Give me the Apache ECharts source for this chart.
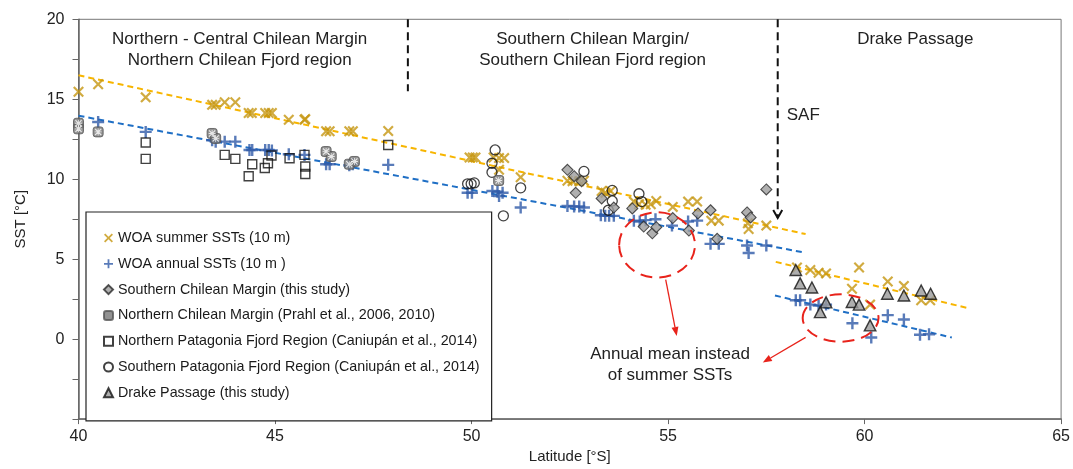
<!DOCTYPE html>
<html><head><meta charset="utf-8">
<script src="https://cdn.jsdelivr.net/npm/echarts@6/dist/echarts.min.js"></script>
<style>html,body{margin:0;padding:0;background:#fff}#c{width:1073px;height:469px}</style>
</head><body><div id="c"></div>
<script>
// ---------- data ----------
const xTickLabels = [40, 45, 50, 55, 60, 65];
const yTickLabels = [0, 5, 10, 15, 20];

const woaSummer = [
  [40.0,15.47],[40.5,15.94],[41.71,15.12],[43.40,14.65],[43.49,14.65],[43.72,14.81],[43.99,14.81],
  [44.33,14.14],[44.41,14.14],[44.75,14.14],[44.84,14.14],[44.92,14.14],[45.35,13.72],[45.75,13.72],
  [45.77,13.76],[46.30,13.0],[46.39,13.0],[46.89,13.0],[46.98,13.0],[47.88,13.02],
  [49.95,11.36],[50.03,11.36],[50.10,11.36],[50.56,11.36],[50.70,11.32],[50.83,11.32],[50.70,10.59],
  [51.25,10.12],[52.44,9.90],[52.57,9.88],[52.74,9.88],[52.86,9.90],[53.31,9.26],[53.41,9.15],
  [53.54,9.26],[54.13,8.60],[54.26,8.43],[54.43,8.40],[54.56,8.43],[54.70,8.64],[55.12,8.27],
  [55.51,8.60],[55.74,8.60],[56.10,7.41],[56.29,7.41],[57.03,7.24],[57.05,6.89],[57.50,7.10],
  [58.28,4.48],[58.62,4.32],[58.83,4.15],[59.02,4.11],[59.86,4.48],[59.68,3.15],[60.14,2.16],
  [60.59,3.60],[61.00,3.33],[61.44,2.43],[61.67,2.43]
];
const woaAnnual = [
  [40.5,13.58],[41.71,12.96],[43.40,12.44],[43.49,12.35],[43.72,12.35],[43.99,12.35],[44.35,11.83],
  [44.42,11.83],[44.75,11.83],[44.84,11.83],[44.92,11.80],[45.35,11.56],[45.75,11.52],[46.30,10.94],
  [46.39,10.94],[46.89,10.88],[46.98,10.94],[47.88,10.90],
  [49.90,9.15],[50.01,9.15],[50.53,9.26],[50.66,9.22],[50.79,9.15],[50.70,8.95],[51.25,8.23],
  [52.44,8.33],[52.61,8.29],[52.74,8.29],[52.86,8.23],[53.29,7.75],[53.40,7.71],[53.50,7.71],
  [53.62,7.71],[54.13,7.41],[54.28,7.36],[54.43,7.44],[54.68,7.50],[55.10,7.10],[55.51,7.36],
  [55.74,7.41],[56.08,5.96],[56.29,5.96],[57.01,5.86],[57.05,5.39],[57.50,5.86],
  [58.25,2.43],[58.36,2.43],[58.62,2.16],[58.83,2.10],[59.02,2.16],[59.69,0.99],[60.17,0.10],
  [60.59,1.50],[61.00,1.23],[61.41,0.27],[61.64,0.31]
];
const southernChileanMargin = [
  [52.44,10.59],[52.61,10.19],[52.80,9.88],[52.65,9.15],[53.31,8.80],[53.62,8.23],[54.09,8.17],
  [54.38,7.04],[54.60,6.62],[54.70,7.0],[55.12,7.57],[55.53,6.79],[55.76,7.86],[56.08,8.06],
  [56.25,6.27],[57.01,7.92],[57.10,7.61],[57.50,9.36]
];
const northernChileanMargin = [
  [40.0,13.5],[40.0,13.15],[40.5,12.96],[43.40,12.86],[43.49,12.55],[46.30,11.73],[46.43,11.42],
  [46.89,10.94],[47.02,11.11],[50.69,9.92]
];
const northernPatagonia = [
  [41.71,12.30],[41.71,11.27],[43.72,11.52],[43.99,11.27],[44.33,10.19],[44.42,10.94],[44.74,10.70],
  [44.82,11.0],[44.91,11.48],[45.37,11.31],[45.75,11.52],[45.77,10.80],[45.77,10.33],[47.88,12.14]
];
const southernPatagonia = [
  [49.90,9.71],[49.99,9.71],[50.07,9.77],[50.60,11.83],[50.52,11.0],[50.52,10.43],[51.25,9.46],
  [50.81,7.71],[52.86,10.49],[53.58,9.30],[53.58,8.64],[53.48,8.06],[54.26,9.09],[54.33,8.60]
];
const drakePassage = [
  [58.25,4.32],[58.36,3.49],[58.66,3.23],[59.02,2.30],[58.87,1.69],[59.68,2.32],[59.86,2.16],
  [60.14,0.86],[60.58,2.84],[61.00,2.73],[61.44,3.04],[61.68,2.84]
];
const summerTrendChile = [[40,16.5],[58.5,6.57]];
const annualTrendChile = [[40,13.97],[58.5,5.4]];
const summerTrendDrake = [[57.74,4.83],[62.68,1.91]];
const annualTrendDrake = [[57.72,2.73],[62.22,0.10]];
const dividerNorth = [[48.38,20],[48.38,15.5]];
const dividerSAF = [[57.79,20],[57.79,7.58]];

const legendNames = [
  'WOA summer SSTs (10 m)',
  'WOA annual SSTs (10 m )',
  'Southern Chilean Margin (this study)',
  'Northern Chilean Margin (Prahl et al., 2006, 2010)',
  'Northern Patagonia Fjord Region (Caniupán et al., 2014)',
  'Southern Patagonia Fjord Region (Caniupán et al., 2014)',
  'Drake Passage (this study)'
];
const regionTexts = [
  {text:'Northern - Central Chilean Margin\nNorthern Chilean Fjord region', at:[44.10,18.07]},
  {text:'Southern Chilean Margin/\nSouthern Chilean Fjord region', at:[53.08,18.07]},
  {text:'Drake Passage', at:[61.29,18.72]}
];
const annotationText = {text:'Annual mean instead\nof summer SSTs', at:[55.05,-1.58]};
const safLabel = {text:'SAF', at:[58.02,13.97]};
const ellipses = [
  {c:[54.72,5.89], rx:0.965, ry:2.04},
  {c:[59.39,1.32], rx:0.965, ry:1.48}
];
const redArrows = [
  [[54.94,3.72],[55.22,0.2]],
  [[58.50,0.11],[57.41,-1.46]]
];

// ---------- chart ----------
const FONT = '"Liberation Sans", Arial, Helvetica, sans-serif';
const X_PATH = 'path://M0,14L14,0L50,36L86,0L100,14L64,50L100,86L86,100L50,64L14,100L0,86L36,50Z';
const PLUS_PATH = 'path://M40,0H60V40H100V60H60V100H40V60H0V40H40Z';
const STAR_PATH = 'path://M0,12L12,0L50,38L88,0L100,12L62,50L100,88L88,100L50,62L12,100L0,88L38,50Z M44,0H56V44H100V56H56V100H44V56H0V44H44Z';

const chart = echarts.init(document.getElementById('c'));

function trend(data, color, width, dash) {
  return {type:'line', data, showSymbol:false, symbol:'none', silent:true, z:1,
    lineStyle:{color, width, type:dash}, animation:false};
}
function scat(name, data, symbol, size, itemStyle) {
  return {type:'scatter', name, data, symbol, symbolSize:size, itemStyle, silent:true,
    emphasis:{disabled:true}, animation:false};
}

chart.setOption({
  animation:false,
  textStyle:{fontFamily:FONT},
  grid:{left:78.5, right:10, top:19.3, bottom:45.5, show:true, borderColor:'#777', borderWidth:1, backgroundColor:'transparent'},
  xAxis:{type:'value', min:40, max:65, interval:5, name:'Latitude [°S]', nameLocation:'middle', nameGap:29,
    nameTextStyle:{fontSize:15, color:'#222', fontFamily:FONT},
    axisLine:{show:true, onZero:false, lineStyle:{color:'#666', width:1.5}},
    axisTick:{show:true, length:5, lineStyle:{color:'#666'}},
    axisLabel:{fontSize:16, color:'#222', margin:9, fontFamily:FONT,
      formatter:v => xTickLabels.includes(v) ? String(v) : ''},
    splitLine:{show:false}},
  yAxis:{type:'value', min:-5, max:20, interval:2.5, name:'SST [°C]', nameLocation:'middle', nameGap:50,
    nameTextStyle:{fontSize:15, color:'#222', fontFamily:FONT},
    axisLine:{show:true, onZero:false, lineStyle:{color:'#666', width:1.5}},
    axisTick:{show:true, length:6, lineStyle:{color:'#666'}},
    axisLabel:{fontSize:16, color:'#222', margin:14, fontFamily:FONT,
      formatter:v => yTickLabels.includes(v) ? String(v) : ''},
    splitLine:{show:false}},
  legend:{data:legendNames, orient:'vertical', left:86, top:212, itemWidth:9, itemHeight:9, itemGap:11.8,
    padding:[19,12,21,17], borderColor:'#222', borderWidth:1.2, backgroundColor:'#fff', selectedMode:false,
    textStyle:{fontSize:14.3, color:'#1a1a1a', fontFamily:FONT}, z:10},
  series:[
    trend(summerTrendChile, '#F7B500', 2, [6,4]),
    trend(annualTrendChile, '#1F6FC5', 2, [6,4]),
    trend(summerTrendDrake, '#F7B500', 2, [6,4]),
    trend(annualTrendDrake, '#1F6FC5', 2, [6,4]),
    scat(legendNames[0], woaSummer, X_PATH, 11, {color:'#C59610'}),
    scat(legendNames[1], woaAnnual, PLUS_PATH, 12, {color:'#2F5AA8'}),
    scat(legendNames[4], northernPatagonia, 'rect', 9, {color:'rgba(255,255,255,0)', borderColor:'#111', borderWidth:1.4}),
    scat(legendNames[5], southernPatagonia, 'circle', 10, {color:'rgba(255,255,255,0)', borderColor:'#111', borderWidth:1.3}),
    scat(legendNames[3], northernChileanMargin, 'roundRect', 10, {color:'#777', borderColor:'#555', borderWidth:1}),
    scat('', northernChileanMargin, STAR_PATH, 7, {color:'#fff'}),
    scat(legendNames[2], southernChileanMargin, 'diamond', 11, {color:'#9C9C9C', borderColor:'#2a2a2a', borderWidth:1.1}),
    scat(legendNames[6], drakePassage, 'triangle', [11.5,11], {color:'#9A9A9A', borderColor:'#111', borderWidth:1.4})
  ]
});

function px(p){ return chart.convertToPixel({gridIndex:0}, p); }
const g = [];
const tfont = '17px ' + FONT;
[dividerNorth, dividerSAF].forEach(d => {
  const a = px(d[0]), b = px(d[1]);
  g.push({type:'line', shape:{x1:a[0], y1:a[1], x2:b[0], y2:b[1]}, style:{stroke:'#111', lineWidth:2, lineDash:[8,5]}, silent:true, z:20});
});
{ const t = px(dividerSAF[1]);
  g.push({type:'polyline', shape:{points:[[t[0]-4.5,t[1]-8],[t[0],t[1]],[t[0]+4.5,t[1]-8]]}, style:{stroke:'#111', lineWidth:2, fill:null}, silent:true, z:20}); }
regionTexts.concat([annotationText]).forEach(r => {
  const p = px(r.at);
  g.push({type:'text', style:{text:r.text, x:p[0], y:p[1], font:tfont, fill:'#222', textAlign:'center', textVerticalAlign:'middle', lineHeight:21}, silent:true, z:20});
});
{ const p = px(safLabel.at);
  g.push({type:'text', style:{text:safLabel.text, x:p[0], y:p[1], font:tfont, fill:'#222', textAlign:'left', textVerticalAlign:'middle'}, silent:true, z:20}); }
ellipses.forEach(e => {
  const c = px(e.c), r = px([e.c[0]+e.rx, e.c[1]+e.ry]);
  g.push({type:'ellipse', shape:{cx:c[0], cy:c[1], rx:Math.abs(r[0]-c[0]), ry:Math.abs(r[1]-c[1])}, style:{stroke:'#E8231B', lineWidth:2, lineDash:[12,7], fill:null}, silent:true, z:20});
});
redArrows.forEach(a => {
  const s = px(a[0]), t = px(a[1]);
  const dx = t[0]-s[0], dy = t[1]-s[1], L = Math.hypot(dx,dy), ux = dx/L, uy = dy/L;
  const hl = 9, hw = 3.5;
  const bx = t[0]-ux*hl, by = t[1]-uy*hl;
  g.push({type:'line', shape:{x1:s[0], y1:s[1], x2:bx, y2:by}, style:{stroke:'#E8231B', lineWidth:1.3}, silent:true, z:20});
  g.push({type:'polygon', shape:{points:[[t[0],t[1]],[bx-uy*hw, by+ux*hw],[bx+uy*hw, by-ux*hw]]}, style:{fill:'#E8231B'}, silent:true, z:20});
});
chart.setOption({graphic:g});
</script>
</body></html>
